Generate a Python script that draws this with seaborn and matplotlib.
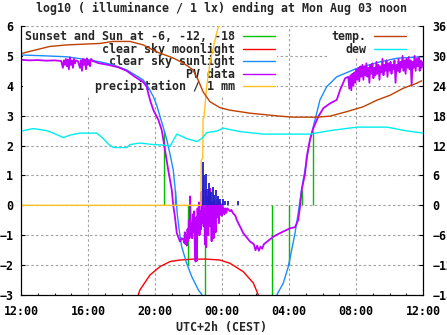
import matplotlib
matplotlib.use("Agg")
import matplotlib.pyplot as plt
from matplotlib.lines import Line2D
from matplotlib.ticker import MultipleLocator
import seaborn as sns

# ---------------- data (x in hours after 12:00 CEST) ----------------
title = "log10 ( illuminance / 1 lx) ending at Mon Aug 03 noon"
x_label = "UTC+2h (CEST)"
hour_ticks = [0, 4, 8, 12, 16, 20, 24]
hour_labels = ["12:00", "16:00", "20:00", "00:00", "04:00", "08:00", "12:00"]
left_ticks = [-3, -2, -1, 0, 1, 2, 3, 4, 5, 6]
right_ticks = [-18, -12, -6, 0, 6, 12, 18, 24, 30, 36]

# Sunset / Sun at -6, -12, -18 (evening and morning)
sun_event_h = [8.56, 9.19, 9.99, 11.0, 15.0, 16.02, 16.8, 17.45]
sun_event_top = [2.5, 0.5, -2.0, -3.0, -3.0, -2.0, 0.5, 2.5]

# clear sky moonlight
moon_h = [7.0, 7.10, 7.70, 8.30, 8.90, 9.49, 10.27, 11.09, 11.88, 12.48, 13.27, 13.87, 14.17]
moon_v = [-3.0, -2.83, -2.33, -2.05, -1.88, -1.83, -1.80, -1.80, -1.83, -1.94, -2.22, -2.60, -3.0]

# clear sky sunlight
sun_h = [0.0, 1.5, 2.73, 4.0, 4.72, 5.5, 6.31, 7.0, 7.30, 7.6, 7.90, 8.1, 8.30, 8.5, 8.7,
         8.9, 9.09, 9.25, 9.33, 9.47, 9.59, 9.89, 10.19, 10.59, 10.81, 11.0,
         15.1, 15.27, 15.66, 15.96, 16.16, 16.36, 16.55, 16.66, 16.85, 17.06, 17.25, 17.45,
         17.85, 18.25, 18.85, 20.04, 21.43, 22.43, 23.92, 24.0]
sun_v = [5.03, 5.0, 4.97, 4.87, 4.80, 4.70, 4.53, 4.30, 4.19, 3.95, 3.64, 3.35, 2.97, 2.6, 2.2,
         1.7, 1.18, 0.29, -0.3, -0.93, -1.38, -1.94, -2.38, -2.83, -3.0, -3.3,
         -3.4, -3.0, -2.6, -2.05, -1.49, -0.93, -0.26, 0.18, 0.85, 1.52, 2.19, 2.63,
         3.53, 3.97, 4.30, 4.58, 4.80, 4.92, 4.97, 4.97]

# PV data
pv_h = [0.0, 0.5, 1.0, 1.5, 2.0, 2.4, 2.50, 2.56, 2.62, 2.68, 2.74, 2.80, 2.86, 2.92, 2.98,
        3.04, 3.10, 3.16, 3.22, 3.28, 3.40, 3.52, 3.58, 3.64, 3.70, 3.76, 3.82, 3.88, 3.94,
        4.00, 4.06, 4.12, 4.18, 4.30, 4.45, 4.60, 5.2, 5.8, 6.31, 6.8, 7.3, 7.5, 7.7, 7.9,
        8.2, 8.4, 8.5, 8.79, 9.0, 9.09, 9.19, 9.3, 9.49, 9.6,
        9.70, 9.74, 9.78, 9.82, 9.86, 9.90, 9.94, 9.98, 10.02, 10.06, 10.10, 10.14, 10.18,
        10.22, 10.26, 10.30, 10.34, 10.38, 10.42, 10.46, 10.50, 10.54, 10.58, 10.62, 10.66,
        10.70, 10.74, 10.78, 10.82, 10.86, 10.90, 10.94, 10.98, 11.02, 11.06, 11.10, 11.14,
        11.18, 11.22, 11.26, 11.30, 11.34, 11.38, 11.42, 11.46, 11.50, 11.54, 11.58, 11.62,
        11.66, 11.70, 11.74, 11.78, 11.82, 11.86, 11.90, 11.94, 11.98, 12.02, 12.06, 12.10,
        12.14, 12.20, 12.26, 12.32, 12.40, 12.48, 12.56, 12.64,
        12.8, 12.88, 13.27, 13.67, 13.9, 14.0, 14.1, 14.2, 14.3, 14.4, 14.5, 15.06, 15.46,
        16.06, 16.36, 16.55, 16.66, 16.76, 16.96, 17.06, 17.25, 17.45, 17.75, 18.05, 18.45,
        18.85, 19.05, 19.35, 19.54,
        19.60, 19.66, 19.72, 19.78, 19.84, 19.90, 19.96, 20.02, 20.08, 20.14, 20.20, 20.26,
        20.32, 20.38, 20.44, 20.50, 20.56, 20.62, 20.68, 20.74, 20.80, 20.86, 20.92, 20.98,
        21.04, 21.10, 21.16, 21.22, 21.28, 21.34, 21.40, 21.46, 21.52, 21.58, 21.64, 21.70,
        21.76, 21.82, 21.88, 21.94, 22.00, 22.06, 22.12, 22.18, 22.24, 22.30, 22.36, 22.42,
        22.48, 22.54, 22.60, 22.66, 22.72, 22.78, 22.84, 22.90, 22.96, 23.02, 23.08, 23.14,
        23.20, 23.26, 23.32, 23.38, 23.44, 23.50, 23.56, 23.62, 23.68, 23.74, 23.80, 23.86,
        23.92, 24.0]
pv_v = [4.87, 4.85, 4.86, 4.84, 4.85, 4.83, 4.60, 4.85, 4.70, 4.90, 4.65, 4.88, 4.55, 4.95, 4.70,
        4.85, 4.60, 4.90, 4.75, 4.85, 4.82, 4.60, 4.85, 4.50, 4.90, 4.70, 4.88, 4.55, 4.92,
        4.70, 4.85, 4.65, 4.90, 4.82, 4.80, 4.76, 4.70, 4.62, 4.50, 4.30, 4.12, 3.97, 3.53, 3.19,
        2.86, 2.52, 2.19, 1.18, 0.52, 0.0, -0.38, -0.93, -1.21, -1.10,
        -1.15, -1.25, -0.9, -1.3, -1.0, -1.35, -0.8, -1.2, -0.5, -1.1, 0.3, -1.0, -0.6,
        -1.1, -0.3, -0.9, -0.2, -1.5, -1.88, -0.4, -1.85, -0.1, -0.9, 0.1, -1.0,
        -0.2, -0.8, 0.45, -0.6, 0.55, -0.7, -0.1, -1.3, 0.5, -1.4, 0.3, -0.6,
        -1.0, 0.2, -0.7, 0.55, -0.5, -1.2, 0.1, -0.4, -1.1, 0.15, -0.3, -0.9,
        0.0, -0.4, 0.2, -0.2, -0.6, 0.1, -0.3, -0.1, -0.35, 0.05, -0.2, -0.1,
        -0.3, -0.1, -0.25, -0.1, -0.15, -0.2, -0.15, -0.25,
        -0.35, -0.49, -0.93, -1.21, -1.3, -1.5, -1.35, -1.52, -1.38, -1.45, -1.3, -1.05, -0.93,
        -0.77, -0.73, -0.49, -0.04, 0.52, 1.07, 1.63, 2.19, 2.58, 2.97, 3.25, 3.41,
        3.53, 3.86, 4.25, 4.30,
        3.90, 4.35, 3.85, 4.40, 4.00, 4.45, 4.10, 4.55, 4.20, 4.60, 4.15, 4.65,
        4.30, 4.70, 4.20, 4.65, 4.35, 4.75, 4.30, 4.60, 4.10, 4.70, 4.40, 4.75,
        4.25, 4.60, 4.35, 4.80, 4.40, 4.70, 4.20, 4.65, 4.45, 4.90, 4.35, 4.70,
        4.50, 4.85, 4.30, 4.75, 4.50, 4.80, 4.40, 4.70, 4.55, 4.85, 4.10, 4.70,
        4.50, 4.90, 4.45, 4.80, 4.60, 5.00, 4.50, 4.85, 4.40, 4.90, 4.60, 4.95,
        4.55, 4.85, 4.00, 4.80, 4.60, 5.00, 4.50, 4.90, 4.65, 4.95, 4.50, 4.85,
        4.60, 4.80]

# precipitation / 1 mm
rain_h = [0.0, 10.75, 10.76, 10.85, 10.87, 10.93, 11.08, 11.28, 11.58, 11.88, 12.0]
rain_v = [0.0, 0.0, 1.5, 1.58, 2.9, 2.96, 3.96, 4.76, 5.53, 6.2, 6.5]

# unlabelled dark-blue bars near midnight
bar_h = [10.85, 10.95, 11.05, 11.15, 11.25, 11.35, 11.45, 11.55, 11.65, 11.75, 11.9,
         12.05, 12.2, 12.34, 12.94]
bar_v = [1.46, 1.0, 1.05, 0.55, 0.75, 0.45, 0.6, 0.35, 0.5, 0.3, 0.2, 0.2, 0.15, 0.15, 0.15]

# temperature and dew point (deg C, right axis)
temp_h = [0.04, 1.73, 2.73, 4.72, 5.49, 6.51, 7.30, 8.10, 9.07, 9.67, 10.27, 10.57, 10.87,
          11.28, 11.88, 12.48, 13.67, 15.46, 16.26, 17.65, 18.45, 19.44, 20.44, 21.24,
          22.03, 22.82, 23.62, 23.92]
temp_c = [30.5, 31.9, 32.2, 32.5, 32.9, 32.9, 32.2, 30.8, 29.6, 28.6, 27.2, 25.2, 22.8,
          20.8, 19.6, 19.1, 18.5, 17.9, 17.7, 17.7, 17.9, 18.8, 19.8, 21.1,
          22.1, 23.5, 24.5, 25.0]
dew_h = [0.0, 0.73, 1.53, 1.93, 2.53, 2.93, 3.52, 4.52, 4.91, 5.21, 5.51, 6.31, 6.51, 7.10,
         7.90, 8.50, 8.90, 9.30, 9.89, 10.49, 10.79, 11.09, 11.68, 12.08, 13.07, 14.47,
         17.25, 18.45, 20.06, 21.85, 22.93, 24.0]
dew_c = [14.9, 15.4, 15.0, 14.5, 13.6, 14.1, 14.5, 14.5, 13.4, 12.3, 11.6, 11.6, 12.2, 12.5,
         12.2, 12.1, 11.9, 14.3, 13.4, 12.8, 13.4, 14.6, 14.9, 15.5, 14.8, 14.3,
         14.3, 15.0, 15.7, 15.7, 15.0, 14.5]

# ---------------- style ----------------
sns.set_theme(style="white")
plt.rcParams["font.family"] = ["DejaVu Sans Mono"]
plt.rcParams["font.weight"] = "bold"
plt.rcParams["font.size"] = 8.4

c_green = "#00c000"
c_red = "#ff0000"
c_blue = "#1a8cff"
c_purple = "#c000ff"
c_orange = "#ffc020"
c_navy = "#2020c8"
c_brown = "#c04000"
c_cyan = "#00eeee"

fig = plt.figure(figsize=(4.47, 3.35), dpi=100)
ax = fig.add_axes([21 / 447, 40 / 335, 402 / 447, 269 / 335])
ax2 = ax.twinx()

lw = 1.0
ax.vlines(sun_event_h, 0, sun_event_top, colors=c_green, lw=lw, zorder=2)
sns.lineplot(x=moon_h, y=moon_v, ax=ax, color=c_red, lw=lw, estimator=None, sort=False)
sns.lineplot(x=sun_h, y=sun_v, ax=ax, color=c_blue, lw=lw, estimator=None, sort=False)
sns.lineplot(x=pv_h, y=pv_v, ax=ax, color=c_purple, lw=1.3, estimator=None, sort=False)
sns.lineplot(x=rain_h, y=rain_v, ax=ax, color=c_orange, lw=lw, estimator=None, sort=False)
ax.vlines(bar_h, 0, bar_v, colors=c_navy, lw=1.3, zorder=3)

sns.lineplot(x=temp_h, y=temp_c, ax=ax2, color=c_brown, lw=lw, estimator=None, sort=False)
sns.lineplot(x=dew_h, y=dew_c, ax=ax2, color=c_cyan, lw=lw, estimator=None, sort=False)

ax.set_xlim(0, 24)
ax.set_ylim(-3, 6)
ax2.set_ylim(-18, 36)
ax.set_xticks(hour_ticks, hour_labels)
ax.xaxis.set_minor_locator(MultipleLocator(1))
ax.set_yticks(left_ticks)
ax2.set_yticks(right_ticks)
ax.set_xlabel("")
ax.set_ylabel("")
ax2.set_ylabel("")

ax.set_axisbelow(True)
ax.grid(True, which="major", color="#a0a0a0", lw=0.8, ls=(0, (2.2, 2.2)))
ax2.grid(False)

for a in (ax, ax2):
    for s in a.spines.values():
        s.set_color("black")
        s.set_linewidth(0.8)
    a.spines["top"].set_visible(False)

ax.tick_params(axis="x", which="major", direction="in", length=3, width=0.8, pad=7,
               colors="black", labelsize=8.4)
ax.tick_params(axis="x", which="minor", direction="in", length=1.6, width=0.8, bottom=True)
ax.tick_params(axis="y", direction="in", length=3, width=0.8, pad=5.5, colors="black",
               labelsize=8.4, left=True, right=False)
ax2.tick_params(axis="y", direction="in", length=3, width=0.8, pad=7, colors="black",
                labelsize=8.4, right=True)

# legends (gnuplot-like: text right-aligned, sample to the right)
h_left = [Line2D([], [], color=c_green, lw=lw), Line2D([], [], color=c_red, lw=lw),
          Line2D([], [], color=c_blue, lw=lw), Line2D([], [], color=c_purple, lw=lw),
          Line2D([], [], color=c_orange, lw=lw)]
l_left = ["Sunset and Sun at -6, -12, -18", "clear sky moonlight", "clear sky sunlight",
          "PV data", "precipitation / 1 mm"]
leg1 = ax.legend(h_left, l_left, loc="upper right", bbox_to_anchor=(0.637, 0.99),
                 markerfirst=False, handlelength=2.75, handletextpad=0.7, labelspacing=-0.05,
                 borderpad=0.15, borderaxespad=0, frameon=True, fancybox=False,
                 facecolor="white", edgecolor="none", framealpha=1, fontsize=8.4)
leg1.set_zorder(1)
ax.add_artist(leg1)
h_right = [Line2D([], [], color=c_brown, lw=lw), Line2D([], [], color=c_cyan, lw=lw)]
leg2 = ax.legend(h_right, ["temp.", "dew"], loc="upper right", bbox_to_anchor=(0.963, 0.99),
                 markerfirst=False, handlelength=2.75, handletextpad=0.7, labelspacing=-0.05,
                 borderpad=0.15, borderaxespad=0, frameon=True, fancybox=False,
                 facecolor="white", edgecolor="none", framealpha=1, fontsize=8.4)
leg2.set_zorder(1)

fig.text(221 / 447, 1 - 8 / 335, title, ha="center", va="center", fontsize=8.4,
         fontweight="bold")
fig.text(221 / 447, 8 / 335, x_label, ha="center", va="center", fontsize=8.4,
         fontweight="bold")

fig.savefig("out.png", dpi=100)
